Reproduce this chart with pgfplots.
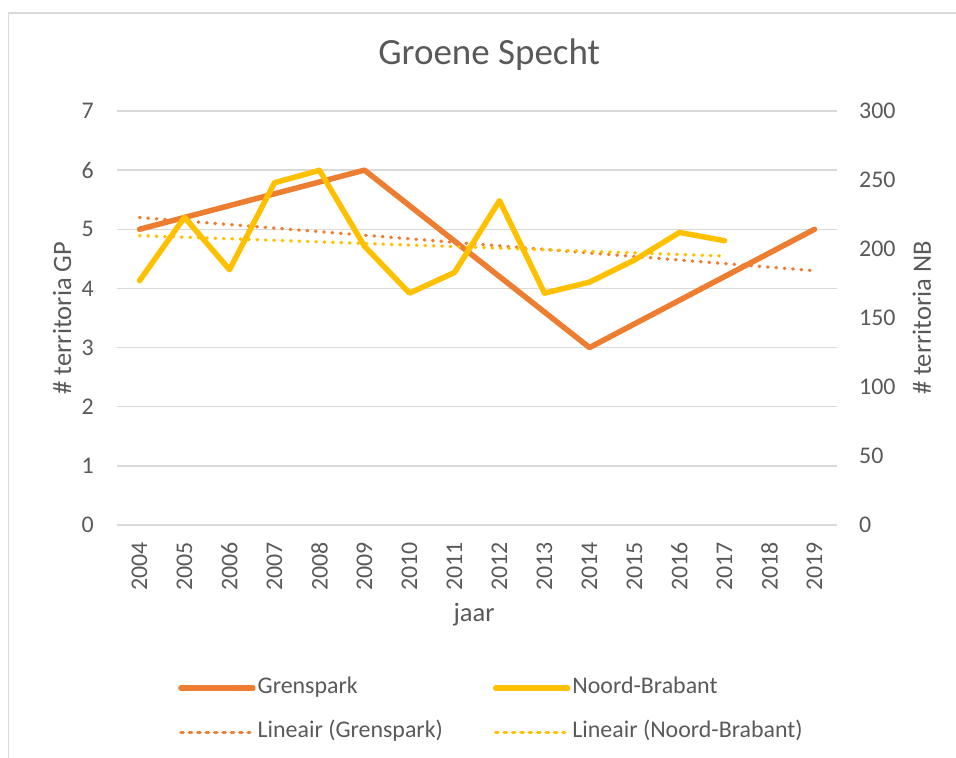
\documentclass[border=0pt]{standalone}
\usepackage{pgfplots}
\pgfplotsset{compat=1.18}
\usepackage{pgfplotstable}
\usepackage{fontspec}
\setmainfont{Carlito}
\definecolor{txt}{HTML}{595959}
\definecolor{grd}{HTML}{D9D9D9}
\definecolor{gp}{HTML}{ED7D31}
\definecolor{nb}{HTML}{FFC000}

\pgfplotstableread{
x y
0 5
5 6
10 3
15 5
}\gpdata
\pgfplotstableread{
x y
0 177
1 223
2 185
3 248
4 257
5 202
6 168
7 183
8 235
9 168
10 176
11 192
12 212
13 206
}\nbdata
\pgfplotstableread{
x y
0 5.2
15 4.3
}\gptrenddata
\pgfplotstableread{
x y
0 209.7
13 194.9
}\nbtrenddata

\pgfplotsset{
 base/.style={
  scale only axis, width=720bp, height=414bp,
  at={(117bp,233bp)}, anchor=south west,
  xmin=-0.5, xmax=15.5,
  axis line style={draw=none},
  major tick length=0pt,
  tick label style={font=\fontsize{23.9bp}{28bp}\selectfont, text=txt},
  /pgf/number format/assume math mode=true,
  label style={font=\fontsize{26.5bp}{30bp}\selectfont, text=txt},
  clip=false,
 },
 gpline/.style={gp, line width=5.5bp, line cap=round, line join=round},
 nbline/.style={nb, line width=5.5bp, line cap=round, line join=round},
 gptrend/.style={gp, line width=3.4bp, line cap=round, dash pattern=on 0.6bp off 7.8bp},
 nbtrend/.style={nb, line width=3.4bp, line cap=round, dash pattern=on 0.6bp off 7.8bp},
}

\begin{document}
\begin{tikzpicture}
\path[use as bounding box] (0bp,0bp) rectangle (956bp,758bp);
\draw[grd, line width=1.3bp] (8.5bp,-5bp) -- (8.5bp,745bp) -- (970bp,745bp);

\begin{axis}[base,
  ymin=0, ymax=7, ytick={0,1,...,7},
  ymajorgrids, grid style={grd, line width=1.3bp},
  xtick={0,...,15},
  xticklabels={2004,2005,2006,2007,2008,2009,2010,2011,2012,2013,2014,2015,2016,2017,2018,2019},
  xticklabel style={rotate=90, anchor=east, inner sep=0pt, xshift=-17bp},
  yticklabel style={anchor=east, inner sep=0pt, xshift=-23bp},
  ylabel={\# territoria GP},
  ylabel style={at={(rel axis cs:-0.0764,0.5)}, anchor=center, rotate=0},
  xlabel={jaar},
  xlabel style={at={(rel axis cs:0.496,-0.234)}, anchor=base},
  title={Groene Specht},
  title style={at={(rel axis cs:0.517,1.099)}, anchor=base, font=\fontsize{37bp}{44bp}\selectfont, text=txt},
]
\addplot[gpline] table[x=x,y=y] {\gpdata};
\addplot[gptrend] table[x=x,y=y] {\gptrenddata};
\end{axis}

\begin{axis}[base,
  ymin=0, ymax=300, ytick={0,50,...,300},
  axis y line*=right, axis x line=none,
  yticklabel style={anchor=west, inner sep=0pt, xshift=22bp},
  ylabel={\# territoria NB},
  ylabel style={at={(rel axis cs:1.118,0.5)}, anchor=center, rotate=0},
  legend columns=2,
  legend cell align=left,
  legend image code/.code={\path (0bp,0bp) -- (72bp,0bp); \draw[#1] (1.75bp,0bp) -- (69bp,0bp);},
  legend style={at={(rel axis cs:0.0847,-0.366)}, anchor=north west, draw=none, fill=none,
    inner sep=0pt, font=\fontsize{23.9bp}{28bp}\selectfont, text=txt,
    row sep=21bp,
    nodes={inner sep=0pt, text height=17bp, text depth=6bp},
    /tikz/every odd column/.append style={column sep=2bp},
    /tikz/every even column/.append style={column sep=50bp}},
]
\addlegendimage{gpline}
\addlegendentry{Grenspark}
\addplot[nbline] table[x=x,y=y] {\nbdata};
\addlegendentry{Noord-Brabant}
\addlegendimage{gptrend}
\addlegendentry{Lineair (Grenspark)}
\addplot[nbtrend] table[x=x,y=y] {\nbtrenddata};
\addlegendentry{Lineair (Noord-Brabant)}
\end{axis}
\end{tikzpicture}
\end{document}
